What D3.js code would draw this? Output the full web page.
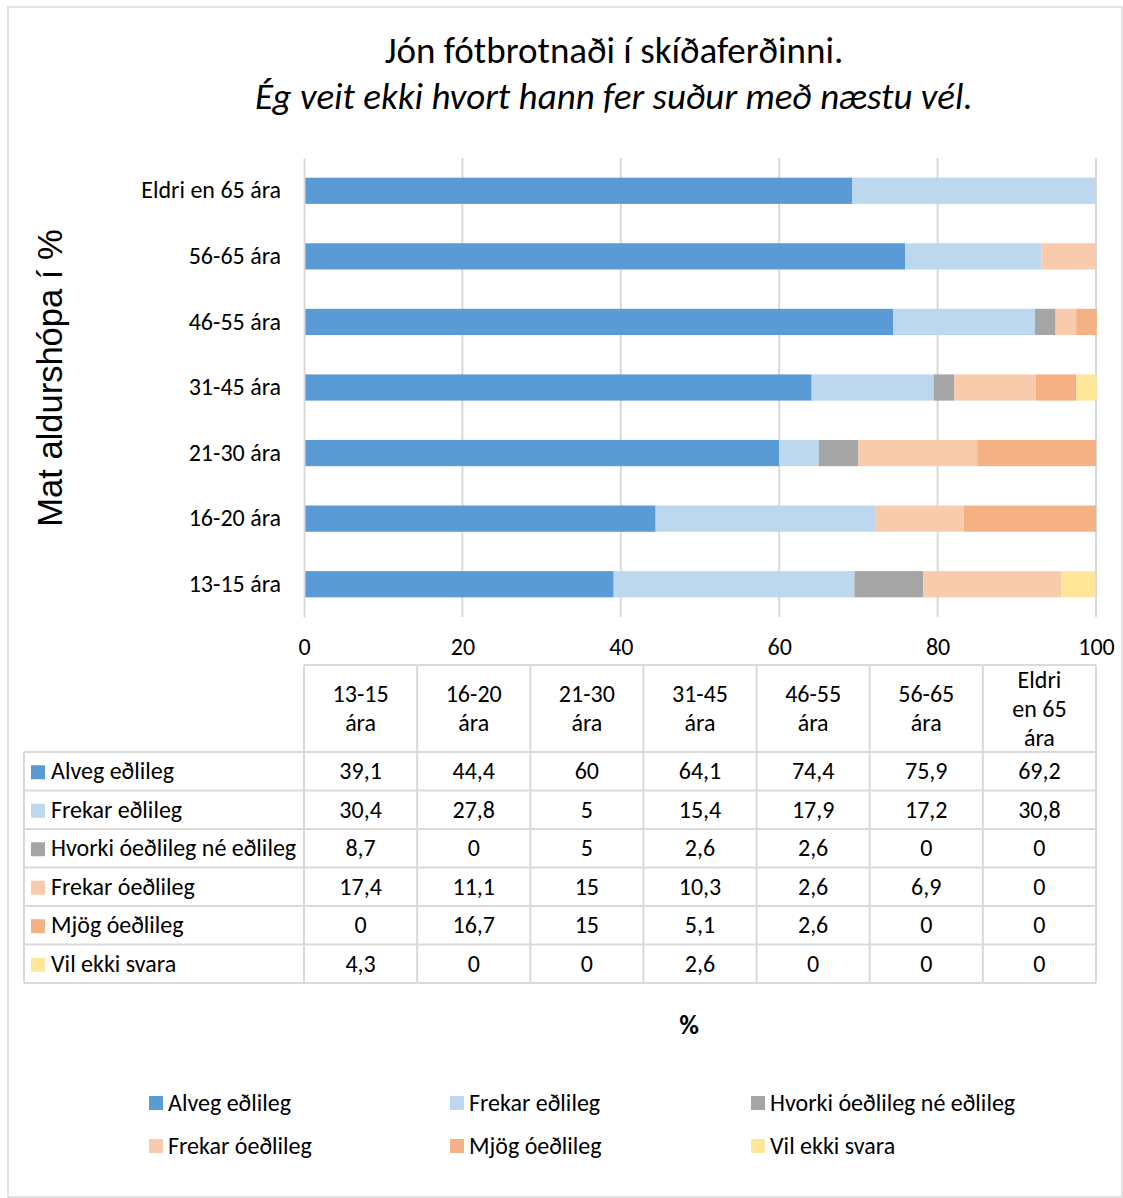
<!DOCTYPE html>
<html>
<head>
<meta charset="utf-8">
<script src="https://cdn.jsdelivr.net/npm/d3@7"></script>
<style>
  html, body { margin: 0; padding: 0; background: #fff; }
  svg text { font-family: Carlito, "Open Sans", sans-serif; fill: #000; }
</style>
</head>
<body>
<svg id="chart" width="1123" height="1198"></svg>
<script>
// Age groups, bottom to top on the chart (table columns left to right)
const categories = ["13-15 ára", "16-20 ára", "21-30 ára", "31-45 ára", "46-55 ára", "56-65 ára", "Eldri en 65 ára"];
const headerLines = [["13-15", "ára"], ["16-20", "ára"], ["21-30", "ára"], ["31-45", "ára"], ["46-55", "ára"], ["56-65", "ára"], ["Eldri", "en 65", "ára"]];
const seriesNames = ["Alveg eðlileg", "Frekar eðlileg", "Hvorki óeðlileg né eðlileg", "Frekar óeðlileg", "Mjög óeðlileg", "Vil ekki svara"];
const alvegEdlileg     = [39.1, 44.4, 60, 64.1, 74.4, 75.9, 69.2];
const frekarEdlileg    = [30.4, 27.8, 5, 15.4, 17.9, 17.2, 30.8];
const hvorki           = [8.7, 0, 5, 2.6, 2.6, 0, 0];
const frekarOedlileg   = [17.4, 11.1, 15, 10.3, 2.6, 6.9, 0];
const mjogOedlileg     = [0, 16.7, 15, 5.1, 2.6, 0, 0];
const vilEkkiSvara     = [4.3, 0, 0, 2.6, 0, 0, 0];
const seriesValues = [alvegEdlileg, frekarEdlileg, hvorki, frekarOedlileg, mjogOedlileg, vilEkkiSvara];
const colors = ["#5B9BD5", "#BDD7EE", "#A5A5A5", "#F8CBAD", "#F4B183", "#FFE699"];
const xTicks = [0, 20, 40, 60, 80, 100];

const svg = d3.select("#chart");
const fmt = v => String(v).replace(".", ",");
const FS = "24px";

// Outer chart frame
svg.append("rect").attr("x", 8).attr("y", 7).attr("width", 1114).attr("height", 1190)
  .attr("fill", "#fff").attr("stroke", "#d9d9d9").attr("stroke-width", 1.5);

// Title
svg.append("text").attr("x", 614).attr("y", 63).attr("text-anchor", "middle")
  .style("font-size", "37px").text("Jón fótbrotnaði í skíðaferðinni.");
svg.append("text").attr("x", 614).attr("y", 109).attr("text-anchor", "middle")
  .style("font-size", "37px").style("font-style", "italic")
  .text("Ég veit ekki hvort hann fer suður með næstu vél.");

// Scales
const x = d3.scaleLinear().domain([0, 100]).range([304, 1096]);
const y = d3.scaleBand().domain(categories.slice().reverse()).range([158, 617]).paddingInner(0.6).paddingOuter(0.3);

// Gridlines
svg.append("g").selectAll("line").data(xTicks.slice(1)).join("line")
  .attr("x1", d => x(d)).attr("x2", d => x(d)).attr("y1", 158).attr("y2", 617)
  .attr("stroke", "#d9d9d9").attr("stroke-width", 2);

// Stacked bars
const rows = categories.map((c, i) => {
  const r = { cat: c };
  seriesNames.forEach((s, j) => { r[s] = seriesValues[j][i]; });
  return r;
});
const stacked = d3.stack().keys(seriesNames)(rows);
svg.append("g").selectAll("g").data(stacked).join("g")
  .attr("fill", (d, i) => colors[i])
  .selectAll("rect").data(d => d).join("rect")
  .attr("x", d => x(d[0])).attr("width", d => Math.max(0, x(d[1]) - x(d[0])))
  .attr("y", d => y(d.data.cat)).attr("height", y.bandwidth());

// Category axis
const yAxis = svg.append("g").attr("transform", "translate(304,0)")
  .call(d3.axisLeft(y).tickSize(0).tickPadding(23));
yAxis.select(".domain").attr("stroke", "#d9d9d9").attr("stroke-width", 2);
yAxis.selectAll("text").style("font-size", FS).attr("fill", "#000");

// Value axis labels
const xAxis = svg.append("g").attr("transform", "translate(0,617)")
  .call(d3.axisBottom(x).tickValues(xTicks).tickSize(0).tickPadding(21).tickFormat(d3.format("d")));
xAxis.select(".domain").remove();
xAxis.selectAll("text").style("font-size", FS).attr("fill", "#000");

// Axis title
svg.append("text").attr("transform", "translate(62,378) rotate(-90)").attr("text-anchor", "middle")
  .style("font-family", "'Liberation Sans', Arial, sans-serif")
  .style("font-size", "34.5px").text("Mat aldurshópa í %");

// Data table
const tableTop = 665, headerBottom = 752, rowH = 38.5, tableLeft = 24;
const colW = (x(100) - x(0)) / categories.length;
const colX = i => x(0) + i * colW;
const tableBottom = headerBottom + rowH * seriesNames.length;
const tg = svg.append("g").attr("stroke", "#d9d9d9").attr("stroke-width", 2);
// vertical lines
d3.range(categories.length + 1).forEach(i => {
  tg.append("line").attr("x1", colX(i)).attr("x2", colX(i)).attr("y1", tableTop).attr("y2", tableBottom);
});
tg.append("line").attr("x1", tableLeft).attr("x2", tableLeft).attr("y1", headerBottom).attr("y2", tableBottom);
// horizontal lines
tg.append("line").attr("x1", colX(0)).attr("x2", colX(7)).attr("y1", tableTop).attr("y2", tableTop);
d3.range(seriesNames.length + 1).forEach(r => {
  const yy = headerBottom + r * rowH;
  tg.append("line").attr("x1", tableLeft).attr("x2", colX(7)).attr("y1", yy).attr("y2", yy);
});

// header cells
headerLines.forEach((lines, i) => {
  const cy = (tableTop + headerBottom) / 2;
  const lh = 29;
  const t = svg.append("text").attr("text-anchor", "middle").style("font-size", FS);
  lines.forEach((ln, k) => {
    t.append("tspan").attr("x", colX(i) + colW / 2)
      .attr("y", cy + (k - (lines.length - 1) / 2) * lh + 8).text(ln);
  });
});

// row labels and values
seriesNames.forEach((s, r) => {
  const cy = headerBottom + r * rowH + rowH / 2;
  svg.append("rect").attr("x", 31).attr("y", cy - 6).attr("width", 14).attr("height", 14).attr("fill", colors[r]);
  svg.append("text").attr("x", 51).attr("y", cy + 8).style("font-size", FS).text(s);
  seriesValues[r].forEach((v, i) => {
    svg.append("text").attr("x", colX(i) + colW / 2).attr("y", cy + 8).attr("text-anchor", "middle")
      .style("font-size", FS).text(fmt(v));
  });
});

// value-axis unit label
svg.append("text").attr("x", 689).attr("y", 1034).attr("text-anchor", "middle")
  .style("font-size", "27px").style("font-weight", "bold").attr("fill", "#595959").text("%");

// Legend
const legendX = [149, 450, 751], legendBase = [1111, 1154];
seriesNames.forEach((s, i) => {
  const lx = legendX[i % 3], ly = legendBase[Math.floor(i / 3)];
  svg.append("rect").attr("x", lx).attr("y", ly - 15).attr("width", 14).attr("height", 14).attr("fill", colors[i]);
  svg.append("text").attr("x", lx + 19).attr("y", ly).style("font-size", FS).text(s);
});
</script>
</body>
</html>
